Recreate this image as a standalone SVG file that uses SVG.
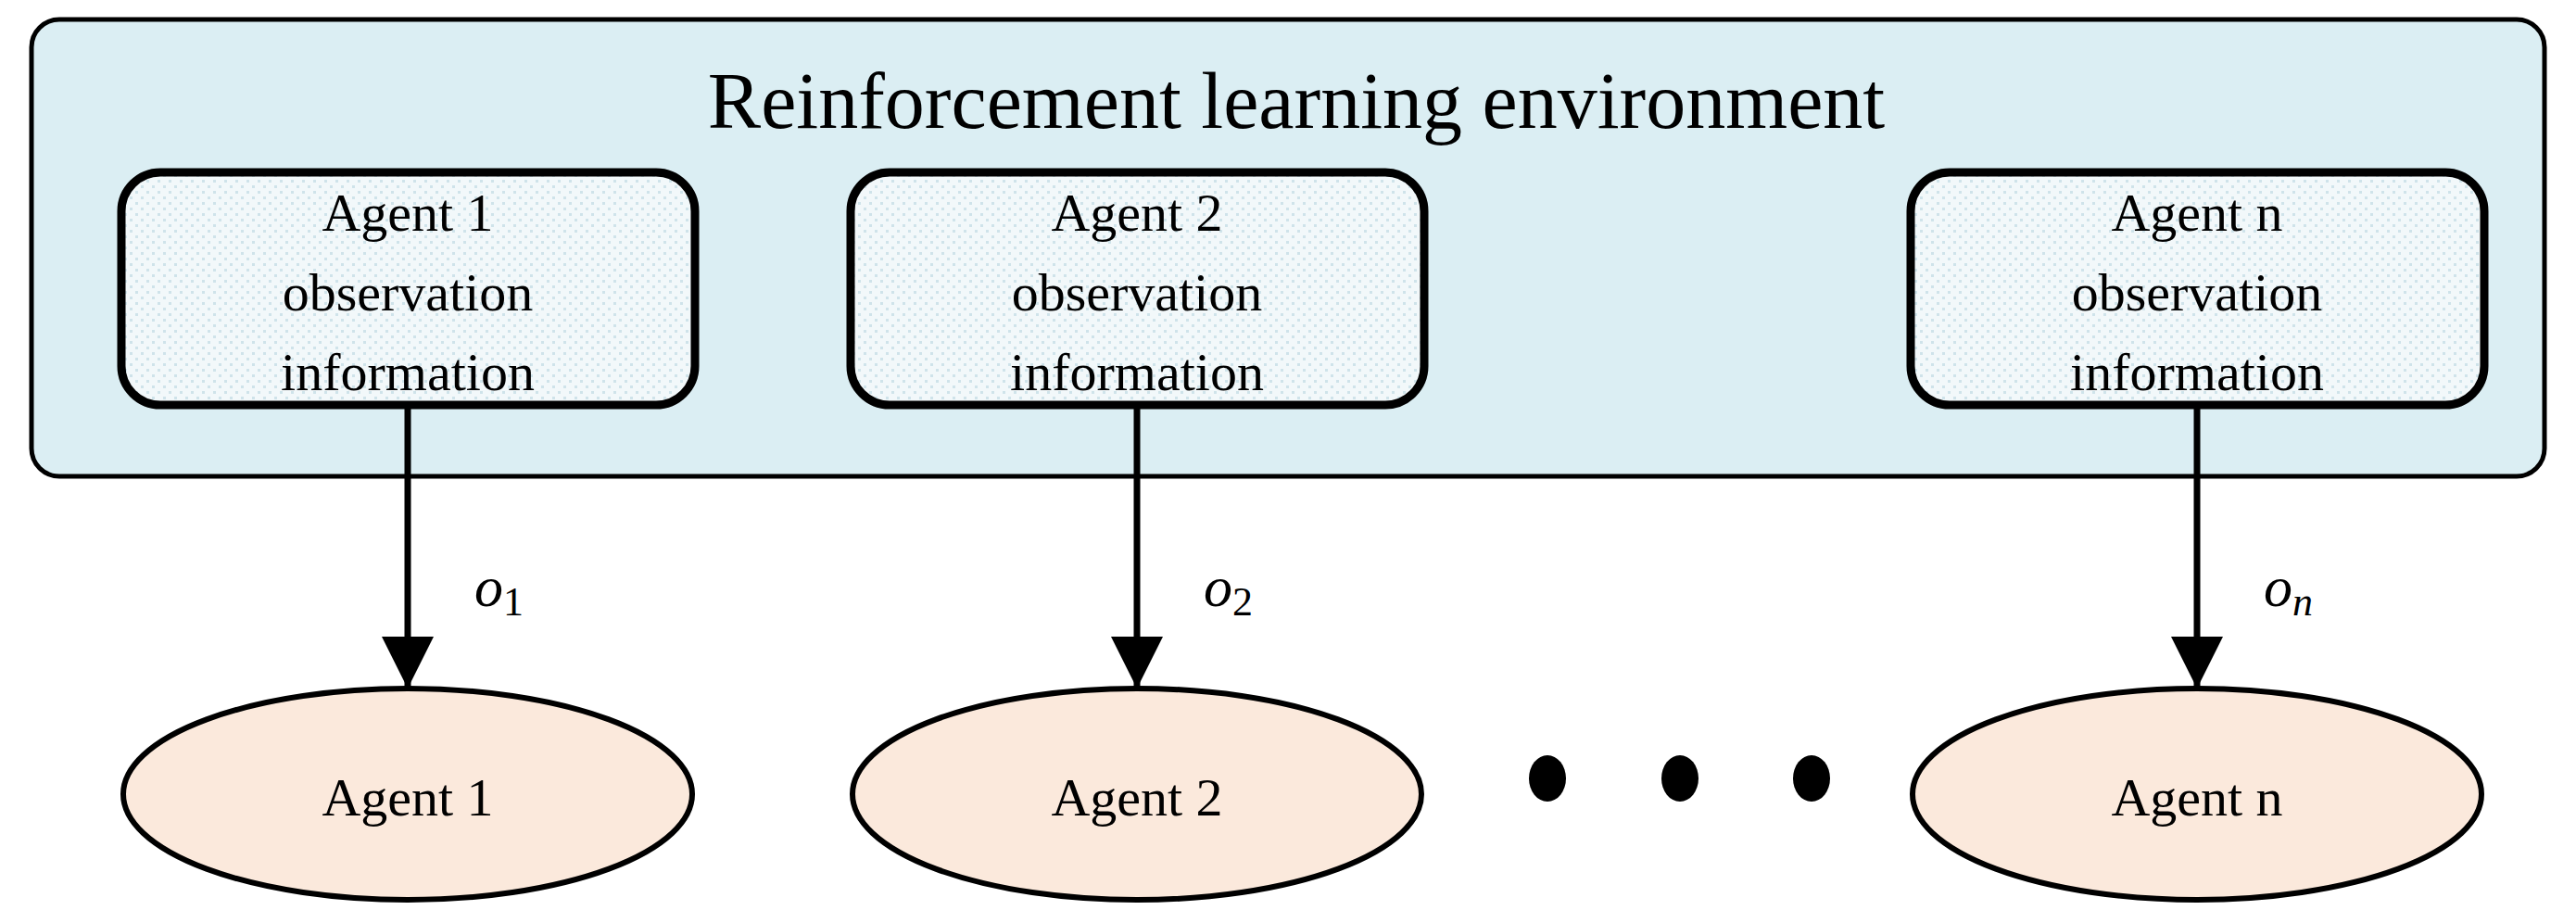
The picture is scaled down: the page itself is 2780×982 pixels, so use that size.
<svg xmlns="http://www.w3.org/2000/svg" width="2780" height="982" viewBox="0 0 2780 982">
<style>
text{font-family:"Liberation Serif","Times New Roman",serif;fill:#000}
.obs{fill:url(#dots);stroke:#000;stroke-width:9}
.ag{fill:#fbe9dc;stroke:#000;stroke-width:6}
.t{font-size:58px;text-anchor:middle}
.c{stroke:#000;stroke-width:7;fill:none;marker-end:url(#ah)}
</style>
<defs>
<pattern id="dots" width="12" height="12" patternUnits="userSpaceOnUse">
<rect width="12" height="12" fill="#f2f8fa"/><rect x="2" y="2" width="3" height="3" fill="#cfe3ea"/><rect x="8" y="8" width="3" height="3" fill="#cfe3ea"/>
</pattern>
<marker id="ah" markerUnits="userSpaceOnUse" markerWidth="56" markerHeight="84" refX="56" refY="28" orient="auto">
<path d="M0,0 L56,28 L0,56 Z" fill="#000"/>
</marker>
</defs>
<g id="env">
<rect x="34" y="21" width="2712" height="493" rx="30" fill="#dbeef3" stroke="#000" stroke-width="5"/>
<text x="1399" y="138" font-size="86" text-anchor="middle">Reinforcement learning environment</text>
</g>
<g id="obs1"><rect class="obs" x="131" y="186" width="619" height="251" rx="42"/>
<text class="t" x="440" y="249">Agent 1</text><text class="t" x="440" y="335">observation</text><text class="t" x="440" y="421">information</text></g>
<g id="obs2"><rect class="obs" x="918" y="186" width="619" height="251" rx="42"/>
<text class="t" x="1227" y="249">Agent 2</text><text class="t" x="1227" y="335">observation</text><text class="t" x="1227" y="421">information</text></g>
<g id="obsn"><rect class="obs" x="2062" y="186" width="619" height="251" rx="42"/>
<text class="t" x="2371" y="249">Agent n</text><text class="t" x="2371" y="335">observation</text><text class="t" x="2371" y="421">information</text></g>
<g id="connectors">
<line class="c" x1="440" y1="437" x2="440" y2="743"/>
<line class="c" x1="1227" y1="437" x2="1227" y2="743"/>
<line class="c" x1="2371" y1="437" x2="2371" y2="743"/>
<text x="512" y="654" font-size="62"><tspan font-style="italic">o</tspan><tspan font-size="44" dy="10">1</tspan></text>
<text x="1299" y="654" font-size="62"><tspan font-style="italic">o</tspan><tspan font-size="44" dy="10">2</tspan></text>
<text x="2443" y="654" font-size="62"><tspan font-style="italic">o</tspan><tspan font-size="44" font-style="italic" dy="10">n</tspan></text>
</g>
<g id="agent1"><ellipse class="ag" cx="440" cy="857" rx="307" ry="114"/><text class="t" x="440" y="880">Agent 1</text></g>
<g id="agent2"><ellipse class="ag" cx="1227" cy="857" rx="307" ry="114"/><text class="t" x="1227" y="880">Agent 2</text></g>
<g id="agentn"><ellipse class="ag" cx="2371" cy="857" rx="307" ry="114"/><text class="t" x="2371" y="880">Agent n</text></g>
<g id="dots-ellipsis" fill="#000">
<ellipse cx="1670" cy="840" rx="20" ry="25"/><ellipse cx="1813" cy="840" rx="20" ry="25"/><ellipse cx="1955" cy="840" rx="20" ry="25"/>
</g>
</svg>
